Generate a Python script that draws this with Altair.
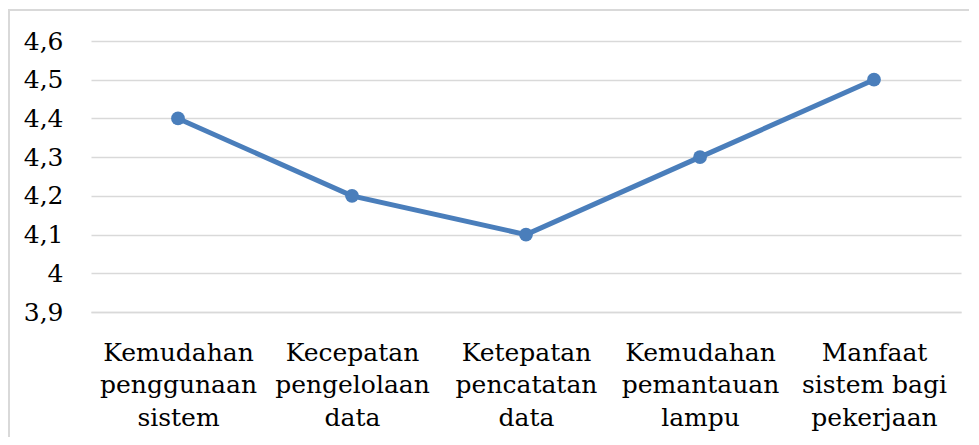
import altair as alt
import pandas as pd

categories = [
    "Kemudahan|penggunaan|sistem",
    "Kecepatan|pengelolaan|data",
    "Ketepatan|pencatatan|data",
    "Kemudahan|pemantauan|lampu",
    "Manfaat|sistem bagi|pekerjaan",
]
values = [4.4, 4.2, 4.1, 4.3, 4.5]
y_ticks = [3.9, 4.0, 4.1, 4.2, 4.3, 4.4, 4.5, 4.6]

df = pd.DataFrame({"cat": categories, "val": values})

W, H = 870, 271
FONT = "DejaVu Serif"
BLUE = "#4a7ebb"

x_enc = alt.X(
    "cat:N",
    sort=categories,
    scale=alt.Scale(paddingInner=0, paddingOuter=0),
    axis=alt.Axis(
        title=None,
        labelExpr="split(datum.label, '|')",
        labelAngle=0,
        labelFont=FONT,
        labelFontSize=25,
        labelColor="#000000",
        labelLineHeight=32.5,
        labelPadding=28,
        labelLimit=0,
        labelOverlap=False,
        ticks=False,
        domainColor="#d9d9d9",
        domainWidth=1.5,
        grid=False,
    ),
)
y_enc = alt.Y(
    "val:Q",
    scale=alt.Scale(domain=[3.9, 4.6], nice=False, zero=False),
    axis=alt.Axis(
        title=None,
        values=y_ticks,
        labelExpr="replace(format(datum.value, '~g'), '.', ',')",
        labelFont=FONT,
        labelFontSize=25,
        labelColor="#000000",
        labelPadding=28,
        ticks=False,
        domain=False,
        gridColor="#d9d9d9",
        gridWidth=1.5,
    ),
)

line = alt.Chart(df).mark_line(color=BLUE, strokeWidth=5).encode(x=x_enc, y=y_enc)
points = alt.Chart(df).mark_point(
    filled=True, color=BLUE, size=190, opacity=1
).encode(x=x_enc, y=y_enc)

border = alt.Chart(df).mark_rect(
    fill=None, stroke="#d9d9d9", strokeWidth=1.5, clip=False
).encode(
    x=alt.value(-82),
    x2=alt.value(W + 30),
    y=alt.value(-31),
    y2=alt.value(H + 160),
)

chart = (
    alt.layer(border, line, points)
    .properties(
        width=W,
        height=H,
        autosize=alt.AutoSizeParams(type="none"),
        padding={"left": 83, "top": 33, "right": 8, "bottom": 125},
    )
    .configure_view(stroke=None)
)

chart.save("out.html", embed_options={"renderer": "svg", "actions": False})
